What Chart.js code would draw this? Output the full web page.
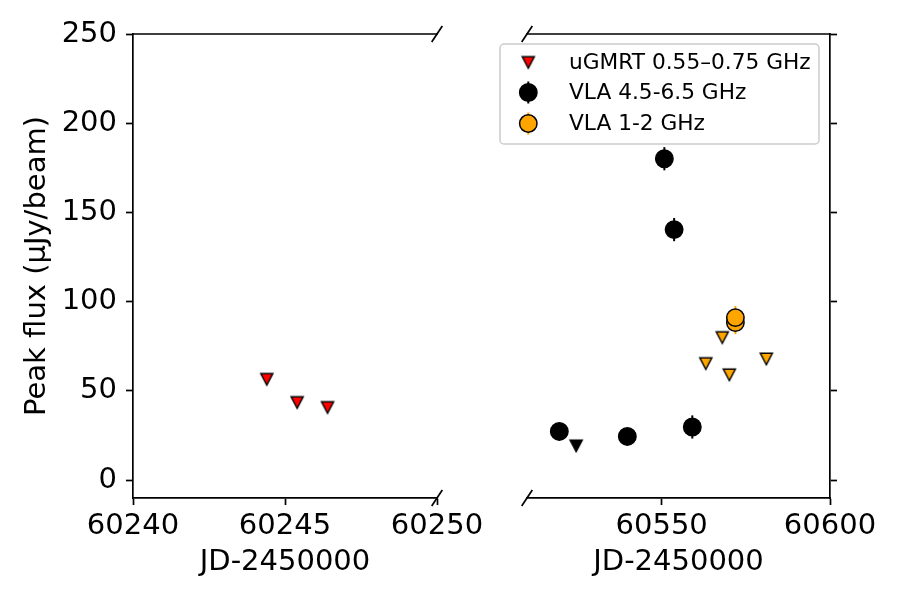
<!DOCTYPE html>
<html><head><meta charset="utf-8">
<script src="https://cdn.jsdelivr.net/npm/chart.js@4.4.0/dist/chart.umd.min.js"></script>
<style>
html,body{margin:0;padding:0;background:#fff;}
#wrap{position:relative;width:900px;height:600px;}
canvas{position:absolute;top:0;left:0;}
</style></head><body>
<div id="wrap"><canvas id="c1" width="900" height="600"></canvas><canvas id="c2" width="900" height="600"></canvas></div>
<script>
// ---- data ----
const yTicks = [0, 50, 100, 150, 200, 250];
const leftXTicks = [60240, 60245, 60250];
const rightXTicks = [60550, 60600];
const gmrtX = [60244.4, 60245.4, 60246.4];
const gmrtY = [56.5, 43.5, 40.7];
const vla6X = [60519.6, 60539.8, 60550.8, 60553.7, 60559.1];
const vla6Y = [27.3, 24.5, 180.1, 140.4, 29.8];
const vla6Err = [4, 4, 6.5, 6.5, 6.5];
const vla6LimX = [60524.6];
const vla6LimY = [19.2];
const vla1X = [60571.9, 60571.9];
const vla1Y = [88.3, 91.1];
const vla1Err = [6.5, 6.5];
const vla1LimX = [60563.1, 60568.0, 60570.1, 60581.1];
const vla1LimY = [65.3, 79.9, 59.0, 67.9];
const legendLabels = ['uGMRT 0.55\u20130.75 GHz', 'VLA 4.5-6.5 GHz', 'VLA 1-2 GHz'];

const FONT = 'DejaVu Sans';
const ORANGE = '#ffa500';
const pts = (xs, ys) => xs.map((x, i) => ({x: x, y: ys[i]}));

function tri(fill) {
  const c = document.createElement('canvas'); c.width = 16; c.height = 16;
  const g = c.getContext('2d');
  g.beginPath(); g.moveTo(1.9, 2.2); g.lineTo(14.1, 2.2); g.lineTo(8, 13.8); g.closePath();
  g.fillStyle = fill; g.fill(); g.lineWidth = 1.4; g.strokeStyle = '#000'; g.stroke();
  return c;
}
const triRed = tri('#ff0000'), triBlack = tri('#000000'), triOrange = tri(ORANGE);

const errPlugin = {id: 'err', beforeDatasetsDraw(chart) {
  const ctx = chart.ctx, xs = chart.scales.x, ys = chart.scales.y;
  chart.data.datasets.forEach(ds => {
    if (!ds.errors) return;
    ctx.save(); ctx.strokeStyle = ds.errColor; ctx.lineWidth = 2;
    ds.data.forEach((p, j) => {
      const px = xs.getPixelForValue(p.x);
      ctx.beginPath();
      ctx.moveTo(px, ys.getPixelForValue(p.y - ds.errors[j]));
      ctx.lineTo(px, ys.getPixelForValue(p.y + ds.errors[j]));
      ctx.stroke();
    });
    ctx.restore();
  });
}};

function framePlugin(side) { return {id: 'frame' + side, afterDraw(chart) {
  const ctx = chart.ctx, a = chart.chartArea;
  ctx.save(); ctx.strokeStyle = '#000'; ctx.lineWidth = 1.7;
  ctx.beginPath(); ctx.moveTo(a.left - 0.8, a.top); ctx.lineTo(a.right + 0.8, a.top); ctx.stroke();
  const bx = side === 'left' ? a.right : a.left;
  [a.top, a.bottom].forEach(y => {
    ctx.beginPath(); ctx.moveTo(bx - 5.3, y + 8); ctx.lineTo(bx + 5.3, y - 8); ctx.stroke();
  });
  ctx.restore();
}}; }

const legendPlugin = {id: 'mylegend', afterDraw(chart) {
  const ctx = chart.ctx;
  ctx.save();
  const x0 = 500, y0 = 44, w = 319, h = 100, r = 4;
  ctx.beginPath();
  ctx.moveTo(x0 + r, y0); ctx.lineTo(x0 + w - r, y0); ctx.arcTo(x0 + w, y0, x0 + w, y0 + r, r);
  ctx.lineTo(x0 + w, y0 + h - r); ctx.arcTo(x0 + w, y0 + h, x0 + w - r, y0 + h, r);
  ctx.lineTo(x0 + r, y0 + h); ctx.arcTo(x0, y0 + h, x0, y0 + h - r, r);
  ctx.lineTo(x0, y0 + r); ctx.arcTo(x0, y0, x0 + r, y0, r); ctx.closePath();
  ctx.fillStyle = 'rgba(255,255,255,0.8)'; ctx.fill();
  ctx.strokeStyle = '#cccccc'; ctx.lineWidth = 1.5; ctx.stroke();
  const mx = 528.3, rows = [62.5, 92.5, 123.5];
  ctx.drawImage(triRed, mx - 8, rows[0] - 8);
  [[ '#000', '#000', rows[1]], [ORANGE, ORANGE, rows[2]]].forEach(([fill, ec, y]) => {
    ctx.strokeStyle = ec; ctx.lineWidth = 2;
    ctx.beginPath(); ctx.moveTo(mx, y - 11); ctx.lineTo(mx, y + 11); ctx.stroke();
    ctx.beginPath(); ctx.arc(mx, y, 8.7, 0, Math.PI * 2);
    ctx.fillStyle = fill; ctx.fill(); ctx.strokeStyle = '#000'; ctx.lineWidth = 1.5; ctx.stroke();
  });
  ctx.fillStyle = '#000'; ctx.font = '21.7px "' + FONT + '"'; ctx.textBaseline = 'middle'; ctx.textAlign = 'left';
  legendLabels.forEach((t, i) => ctx.fillText(t, 569, rows[i] + 1));
  ctx.restore();
}};

const gridOpts = {drawOnChartArea: false, drawTicks: true, tickLength: 7, tickWidth: 1.7, tickColor: '#000'};
const borderOpts = {display: true, color: '#000', width: 1.7};
const tickFont = {family: FONT, size: 29};
const plainNum = v => String(v);

function xScale(min, max, tickVals) {
  return {type: 'linear', min: min, max: max, position: 'bottom',
    afterBuildTicks: s => { s.ticks = tickVals.map(v => ({value: v})); },
    afterFit: s => { s.height = 102; s.paddingLeft = 0; s.paddingRight = 0; },
    grid: gridOpts, border: borderOpts,
    ticks: {font: tickFont, color: '#000', padding: 4, maxRotation: 0, autoSkip: false, callback: plainNum},
    title: {display: true, text: 'JD-2450000', font: tickFont, color: '#000', padding: {top: 0, bottom: 20}}
  };
}
const commonOpts = {responsive: false, animation: false, events: [],
  plugins: {legend: {display: false}, tooltip: {enabled: false}}};

new Chart(document.getElementById('c1'), {
  type: 'scatter',
  data: {datasets: [
    {label: legendLabels[0], data: pts(gmrtX, gmrtY), pointStyle: triRed, pointRadius: 8}
  ]},
  options: Object.assign({}, commonOpts, {
    layout: {padding: {left: 0, right: 463, top: 34, bottom: 0}},
    scales: {
      x: xScale(60240, 60250, leftXTicks),
      y: {type: 'linear', min: -10, max: 250, position: 'left',
        afterBuildTicks: s => { s.ticks = yTicks.map(v => ({value: v})); },
        afterFit: s => { s.width = 133; s.paddingTop = 0; s.paddingBottom = 0; },
        grid: gridOpts, border: borderOpts,
        ticks: {font: tickFont, color: '#000', padding: 9, callback: plainNum},
        title: {display: true, text: 'Peak flux (\u03bcJy/beam)', font: tickFont, color: '#000', padding: {top: 20, bottom: 0}}
      }
    }
  }),
  plugins: [framePlugin('left')]
});

new Chart(document.getElementById('c2'), {
  type: 'scatter',
  data: {datasets: [
    {label: legendLabels[1], data: pts(vla6X, vla6Y), errors: vla6Err, errColor: '#000',
      pointStyle: 'circle', pointRadius: 8.7, backgroundColor: '#000', borderColor: '#000', borderWidth: 1.5},
    {label: legendLabels[1] + ' limit', data: pts(vla6LimX, vla6LimY), pointStyle: triBlack, pointRadius: 8},
    {label: legendLabels[2] + ' limit', data: pts(vla1LimX, vla1LimY), pointStyle: triOrange, pointRadius: 8},
    {label: legendLabels[2], data: pts(vla1X, vla1Y), errors: vla1Err, errColor: ORANGE,
      pointStyle: 'circle', pointRadius: 8.7, backgroundColor: ORANGE, borderColor: '#000', borderWidth: 1.5}
  ]},
  options: Object.assign({}, commonOpts, {
    layout: {padding: {left: 527, right: 0, top: 34, bottom: 0}},
    scales: {
      x: xScale(60510, 60600, rightXTicks),
      y: {type: 'linear', min: -10, max: 250, position: 'right',
        afterBuildTicks: s => { s.ticks = yTicks.map(v => ({value: v})); },
        afterFit: s => { s.width = 70; s.paddingTop = 0; s.paddingBottom = 0; },
        grid: gridOpts, border: borderOpts,
        ticks: {display: false}
      }
    }
  }),
  plugins: [errPlugin, framePlugin('right'), legendPlugin]
});
</script>
</body></html>
